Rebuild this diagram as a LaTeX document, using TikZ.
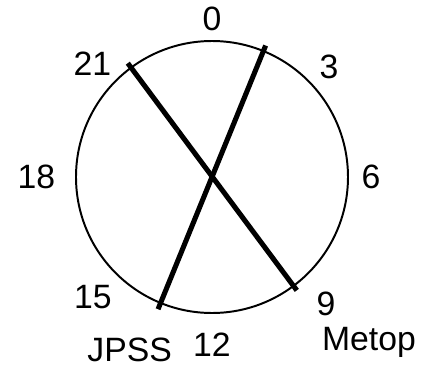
\documentclass[tikz,border=0pt]{standalone}
\usepackage{fontspec}
\setmainfont{Liberation Sans}
\begin{document}
\begin{tikzpicture}[hour/.style={font=\fontsize{24}{29}\selectfont, inner sep=0, outer sep=0, anchor=base}, orbit/.style={line width=3.6pt}]
        \useasboundingbox (-5.3,-4.775) rectangle (5.6,4.425);

        \draw[line width=1.4pt] (0,0) circle (3.4cm);

        % satellite orbit planes
        \coordinate (jpssN) at (67.8:3.55);
        \coordinate (jpssS) at (247.8:3.57);
        \coordinate (metopN) at (126.5:3.54);
        \coordinate (metopS) at (-53.2:3.54);
        \draw[orbit] (jpssN) -- (jpssS);
        \draw[orbit] (metopN) -- (metopS);

        % local times
        \draw node[hour] (h0) at (0,3.675) {0};
        \draw node[hour] (h3) at (2.925,2.475) {3};
        \draw node[hour] (h6) at (3.975,-0.275) {6};
        \draw node[hour] (h9) at (2.85,-3.45) {9};
        \draw node[hour] (h12) at (0,-4.475) {12};
        \draw node[hour] (h15) at (-2.975,-3.275) {15};
        \draw node[hour] (h18) at (-4.39,-0.275) {18};
        \draw node[hour] (h21) at (-2.99,2.55) {21};

        \draw node[hour] (jpss) at (-2.06,-4.6) {JPSS};
        \draw node[hour] (metop) at (3.925,-4.325) {Metop};
      \end{tikzpicture}
\end{document}
